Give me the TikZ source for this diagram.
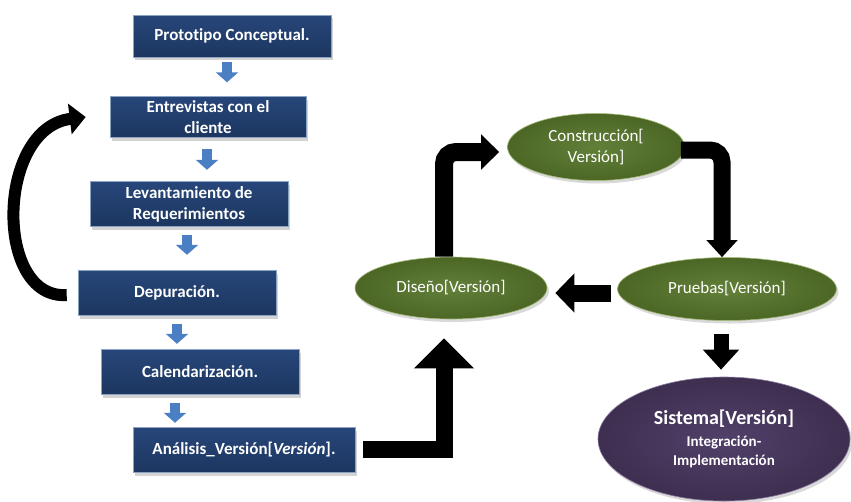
\documentclass[tikz,border=0pt]{standalone}
\usepackage{fontspec}
\setmainfont[Ligatures=NoCommon]{Carlito}
\usepackage{xcolor}
\usepackage{tikz}
\usetikzlibrary{arrows.meta,shapes.geometric,shadows}

\definecolor{navytop}{HTML}{27467A}
\definecolor{navybot}{HTML}{1C365F}
\definecolor{navyrim}{HTML}{8DA3C4}
\definecolor{olivein}{HTML}{62803A}
\definecolor{oliveout}{HTML}{4C6725}
\definecolor{oliverim}{HTML}{A3B978}
\definecolor{plumin}{HTML}{51406A}
\definecolor{plumout}{HTML}{3E2F50}
\definecolor{plumrim}{HTML}{8C7CA3}
\definecolor{smallblue}{HTML}{4A7FC4}

\begin{document}
\begin{tikzpicture}[x=1pt, y=-1pt,
  stage/.style={rectangle, draw=navyrim, line width=0.6pt,
                top color=navytop, bottom color=navybot, text=white,
                font=\fontsize{17}{21}\selectfont\bfseries, align=center,
                minimum width=198pt, minimum height=44pt, inner sep=2pt,
                drop shadow={shadow xshift=2pt, shadow yshift=-3pt, opacity=0.35}},
  cyc/.style={ellipse, draw=oliverim, line width=0.6pt,
              inner color=olivein, outer color=oliveout, text=white,
              font=\fontsize{17}{21}\selectfont, align=center, inner sep=0pt,
              drop shadow={shadow xshift=2pt, shadow yshift=-3pt, opacity=0.3}},
  sys/.style={ellipse, draw=plumrim, line width=0.6pt,
              inner color=plumin, outer color=plumout, text=white,
              font=\fontsize{15}{19}\selectfont\bfseries, align=center, inner sep=0pt,
              drop shadow={shadow xshift=2pt, shadow yshift=-3pt, opacity=0.3}},
  smallarr/.style={draw=smallblue, line width=10pt,
                   -{Triangle[width=22pt, length=10pt]}},
  blockarr/.style={draw=black, line width=17pt, line join=miter},
  looparr/.style={draw=black, line width=12pt,
                  -{Triangle[width=30pt, length=16pt]}}]
\useasboundingbox (0,0) rectangle (851,501);
% --- left column: stages ---
\node[stage, minimum height=42pt] (proto) at (232,36)  {Prototipo Conceptual.};
\node[stage, minimum width=196pt, minimum height=41pt] (ent) at (208,117) {Entrevistas con el\\ cliente};
\node[stage, minimum height=45pt] (lev)   at (189,204) {Levantamiento de\\ Requerimientos};
\node[stage, minimum height=45pt] (dep)   at (177,293) {Depuración.};
\node[stage, minimum height=45pt] (cal)   at (200,372) {Calendarización.};
\node[stage, minimum width=222pt, minimum height=45pt] (ana) at (244,450) {Análisis\_Versión[\textit{Versión}].};
% --- small blue arrows between stages ---
\draw[smallarr] ([xshift=-5pt, yshift=-5pt]proto.south) -- ++(0,20);
\draw[smallarr] ([xshift=-1pt, yshift=-11pt]ent.south) -- ++(0,21);
\draw[smallarr] ([xshift=-2pt, yshift=-8pt]lev.south)  -- ++(0,20);
\draw[smallarr] ([yshift=-8pt]dep.south)               -- ++(0,20);
\draw[smallarr] ([xshift=-25pt, yshift=-8pt]cal.south) -- ++(0,20);
% --- loop back from Depuracion to Entrevistas ---
\draw[looparr] ([xshift=-11pt, yshift=-2pt]dep.west) .. controls (-6,300) and (-4,128) .. ([xshift=-24pt]ent.west);
% --- iteration cycle ---
\node[cyc, minimum width=177pt, minimum height=67pt] (con) at (596,147) {Construcción[\\ Versión]};
\node[cyc, minimum width=192pt, minimum height=62pt] (dis) at (451,288) {Diseño[Versión]};
\node[cyc, minimum width=219pt, minimum height=63pt] (pru) at (727,289) {Pruebas[Versión]};
\node[sys, minimum width=252pt, minimum height=124pt] (sis) at (724,439)
  {\fontsize{20}{24}\selectfont\bfseries Sistema[Versión]\\[3pt]
   Integración-\\ Implementación};
% --- block arrows ---
\draw[blockarr, -{Triangle[width=58pt, length=30pt]}]
  ([xshift=8pt, yshift=1pt]ana.east) -| ([xshift=-7pt, yshift=-19pt]dis.south);
\draw[blockarr, line width=18pt, rounded corners=12pt, -{Triangle[width=34pt, length=18pt]}]
  ([xshift=-7pt]dis.north) |- ([xshift=-8pt, yshift=-5pt]con.west);
\draw[blockarr, rounded corners=12pt, -{Triangle[width=30pt, length=17pt]}]
  ([xshift=-4pt, yshift=-3pt]con.east) -| ([xshift=-5pt]pru.north);
\draw[blockarr, -{Triangle[width=38pt, length=19pt]}]
  ([xshift=-6pt, yshift=-4pt]pru.west) -- ([xshift=8pt, yshift=-5pt]dis.east);
\draw[blockarr, line width=15pt, -{Triangle[width=35pt, length=20pt]}]
  ([xshift=-6pt, yshift=-13pt]pru.south) -- ([xshift=-3pt, yshift=7pt]sis.north);
\end{tikzpicture}
\end{document}
